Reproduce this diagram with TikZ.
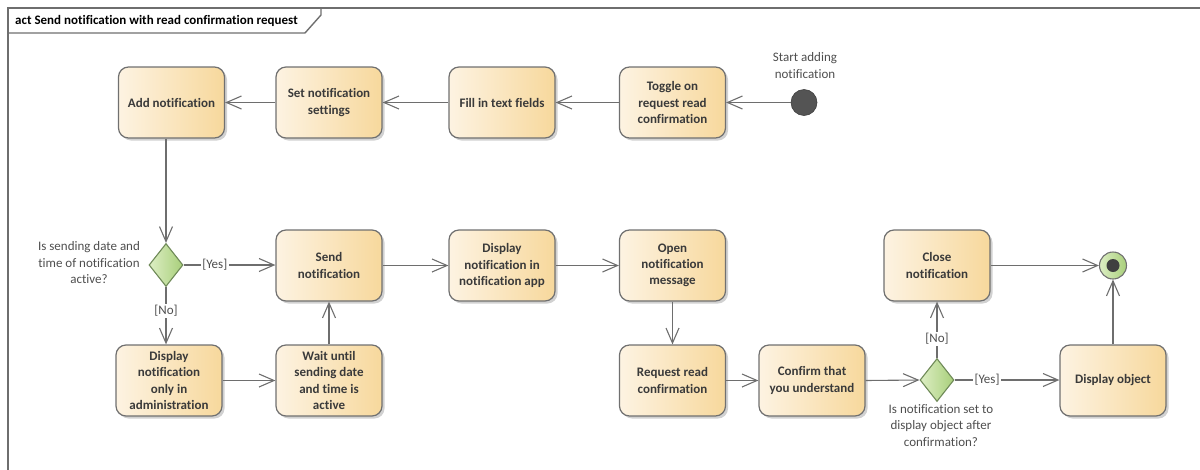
\documentclass[tikz,border=0pt]{standalone}
\usepackage{fontspec}
\setmainfont{Carlito}[Ligatures=CommonOff]
\usetikzlibrary{arrows.meta,shapes.geometric,shadows,calc}
\definecolor{edgec}{HTML}{6E6E6E}
\definecolor{boxborder}{HTML}{707070}
\definecolor{boxL}{HTML}{FDF3E2}
\definecolor{boxR}{HTML}{F7D89C}
\definecolor{decL}{HTML}{DDEEC4}
\definecolor{decR}{HTML}{A8CF7A}
\definecolor{decborder}{HTML}{6F8A58}
\definecolor{txt}{HTML}{3A3A3A}
\definecolor{labc}{HTML}{4E4E4E}
\definecolor{startc}{HTML}{545454}
\begin{document}
\begin{tikzpicture}[x=1pt,y=-1pt,
  act/.style={rectangle, rounded corners=10pt, draw=boxborder, line width=1.2pt,
    left color=boxL, right color=boxR, minimum width=106pt, minimum height=71pt,
    align=center, font=\fontsize{13pt}{16.3pt}\selectfont\bfseries, text=txt, inner sep=2pt,
    drop shadow={shadow xshift=2.5pt, shadow yshift=-2.5pt, fill=black!40, opacity=0.45}},
  decision/.style={diamond, draw=decborder, line width=1.1pt, left color=decL, right color=decR,
    minimum width=34pt, minimum height=43pt, inner sep=0pt},
  flow/.style={draw=edgec, line width=1.1pt, -{Straight Barb[length=15pt,width=13pt,line width=1.1pt]}},
  lab/.style={font=\fontsize{13pt}{16.5pt}\selectfont, text=labc, align=center, inner sep=0pt},
  guard/.style={font=\fontsize{13pt}{16pt}\selectfont, text=labc, fill=white, inner sep=1.5pt},
  frame/.style={draw=edgec, line width=1.4pt}
]
\useasboundingbox (0,0) rectangle (1200,469);
% frame
\draw[frame] (8,470) -- (8,8) -- (1201,8);
\draw[frame] (8,33) -- (305,33) -- (321,15) -- (321,8);
\node[anchor=west, font=\fontsize{13pt}{16pt}\selectfont\bfseries, text=black, inner sep=0pt] (title) at (15,20.5) {act Send notification with read confirmation request};

% row 1
\node[act] (add) at (171.5,102.5) {Add notification};
\node[act] (set) at (329,102.5) {Set notification\\settings};
\node[act] (fill) at (502,102.5) {Fill in text fields};
\node[act] (toggle) at (672.5,102.5) {Toggle on\\request read\\confirmation};
\node[circle, fill=startc, draw=black!75, line width=0.6pt, minimum size=26pt, inner sep=0pt] (start) at (804,102.5) {};
\node[lab] (startlab) at (805,65.5) {Start adding\\notification};

% row 2
\node[decision] (dec1) at (166,265) {};
\node[lab] (dec1lab) at (89,263) {Is sending date and\\time of notification\\active?};
\node[act] (send) at (329,265.5) {Send\\notification};
\node[act] (app) at (502,265.5) {Display\\notification in\\notification app};
\node[act] (open) at (672.5,265.5) {Open\\notification\\message};
\node[act] (close) at (937,265.5) {Close\\notification};
\node[circle, draw=boxborder, line width=1.1pt, left color=decL, right color=decR, minimum size=27pt, inner sep=0pt] (final) at (1113,265.5) {};
\fill[black!75] (final.center) circle (6.5);

% row 3
\node[act] (admin) at (169,380.5) {Display\\notification\\only in\\administration};
\node[act] (wait) at (329,380.5) {Wait until\\sending date\\and time is\\active};
\node[act] (req) at (672.5,380.5) {Request read\\confirmation};
\node[act] (conf) at (812,380.5) {Confirm that\\you understand};
\node[decision] (dec2) at (937,380) {};
\node[lab] (dec2lab) at (941,425.5) {Is notification set to\\display object after\\confirmation?};
\node[act] (obj) at (1113,380.5) {Display object};

% edges
\draw[flow] (start) -- (toggle);
\draw[flow] (toggle) -- (fill);
\draw[flow] (fill) -- (set);
\draw[flow] (set) -- (add);
\draw[flow] (add.south -| dec1) -- (dec1.north);
\draw[flow] (dec1.east) -- (dec1.east -| send.west) node[guard, pos=0.34] {[Yes]};
\draw[flow] (dec1.south) -- (dec1.south |- admin.north) node[guard, pos=0.42] {[No]};
\draw[flow] (admin) -- (wait);
\draw[flow] (wait) -- (send);
\draw[flow] (send) -- (app);
\draw[flow] (app) -- (open);
\draw[flow] (open) -- (req);
\draw[flow] (req) -- (conf);
\draw[flow] (conf.east) -- (dec2.west);
\draw[flow] (dec2.north) -- (close.south) node[guard, pos=0.34] {[No]};
\draw[flow] (dec2.east) -- (dec2.east -| obj.west) node[guard, pos=0.31] {[Yes]};
\draw[flow] (close.east) -- (final.west);
\draw[flow] (obj.north) -- (final.south);
\end{tikzpicture}
\end{document}
